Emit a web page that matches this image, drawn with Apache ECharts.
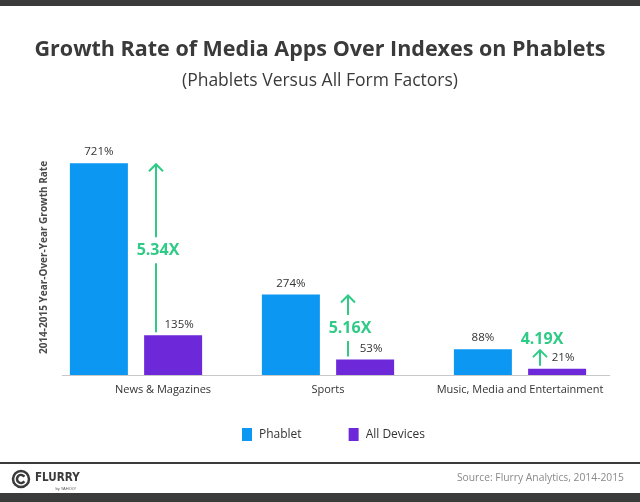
<!DOCTYPE html>
<html>
<head>
<meta charset="utf-8">
<script src="https://cdn.jsdelivr.net/npm/echarts@6/dist/echarts.min.js"></script>
<style>html,body{margin:0;padding:0;background:#fff;}#c{width:640px;height:502px;}</style>
</head>
<body>
<div id="c"></div>
<script>
var categories = ['News & Magazines', 'Sports', 'Music, Media and Entertainment'];
var phablet = [721, 274, 88];
var allDevices = [135, 53, 21];
var ratioLabels = ['5.34X', '5.16X', '4.19X'];

var FONT = '"Open Sans", sans-serif';
var GREEN = '#2fcb86';
var chart = echarts.init(document.getElementById('c'));

var arrowData = categories.map(function (c, i) { return [i, allDevices[i], phablet[i], ratioLabels[i]]; });
var categoryData = categories.map(function (c, i) {
  return i === 0 ? { value: c, textStyle: { padding: [0, 0, 0, 54] } } : c;
});

chart.setOption({
  animation: false,
  title: [
    { text: 'Growth Rate of Media Apps Over Indexes on Phablets', left: 'center', top: 34,
      textStyle: { fontFamily: FONT, fontSize: 21.5, fontWeight: 'bold', color: '#3a3a3a' } },
    { text: '(Phablets Versus All Form Factors)', left: 'center', top: 67,
      textStyle: { fontFamily: FONT, fontSize: 17.5, fontWeight: 'normal', color: '#3a3a3a' } }
  ],
  legend: {
    data: ['Phablet', 'All Devices'], bottom: 56, left: 237, itemWidth: 10, itemHeight: 13, itemGap: 47,
    icon: 'rect', textStyle: { fontFamily: FONT, fontSize: 12, color: '#333', padding: [0, 0, 0, 2] }
  },
  grid: { left: 40, right: 24, top: 140, bottom: 127 },
  xAxis: {
    type: 'category', data: categoryData,
    axisLine: { show: false }, axisTick: { show: false },
    axisLabel: { interval: 0, fontFamily: FONT, fontSize: 11, color: '#333', margin: 9 }
  },
  yAxis: {
    type: 'value', min: 0, max: 800,
    name: '2014-2015 Year-Over-Year Growth Rate', nameLocation: 'middle', nameGap: -9,
    nameTextStyle: { fontFamily: FONT, fontSize: 10, color: '#4a4a4a', fontWeight: 'bold' },
    axisLine: { show: false }, axisTick: { show: false }, axisLabel: { show: false }, splitLine: { show: false }
  },
  series: [
    { name: 'Phablet', type: 'bar', data: phablet, barWidth: 58, barGap: '28%',
      itemStyle: { color: '#0c97f2' },
      label: { show: true, position: 'top', distance: 5, formatter: '{c}%', fontFamily: FONT, fontSize: 11.5, color: '#333' } },
    { name: 'All Devices', type: 'bar', data: allDevices, barWidth: 58,
      itemStyle: { color: '#6d29d9' },
      label: { show: true, position: 'top', distance: 5, formatter: '{c}%', fontFamily: FONT, fontSize: 11.5, color: '#333',
        offset: [6, 0] } },
    { name: 'ratio', type: 'custom', data: arrowData, z: 10,
      renderItem: function (params, api) {
        var idx = api.value(0);
        var p0 = api.coord([idx, api.value(1)]);
        var p1 = api.coord([idx, api.value(2)]);
        var x = p0[0] + 20;
        var yBot = p0[1] - 3;
        var yTop = p1[1] + 1;
        var span = yBot - yTop;
        var label = ratioLabels[params.dataIndex];
        var children = [
          { type: 'line', shape: { x1: x, y1: yBot, x2: x, y2: yTop }, style: { stroke: GREEN, lineWidth: 2 } },
          { type: 'polyline', shape: { points: [[x - 7, yTop + 7], [x, yTop], [x + 7, yTop + 7]] },
            style: { stroke: GREEN, lineWidth: 2, fill: null } }
        ];
        var ty = span > 40 ? (yTop + yBot) / 2 + 2 : yTop - 11;
        children.push({ type: 'text', x: x + 2, y: ty, style: {
          text: label, fill: GREEN, font: 'bold 16px ' + FONT, align: 'center', verticalAlign: 'middle',
          backgroundColor: span > 40 ? '#fff' : null, padding: [5, 2, 5, 2] } });
        return { type: 'group', children: children };
      } }
  ],
  graphic: [
    { type: 'rect', shape: { x: 0, y: 0, width: 640, height: 6 }, style: { fill: '#3b3b3b' } },
    { type: 'line', shape: { x1: 62, y1: 375.5, x2: 610, y2: 375.5 }, style: { stroke: '#c8c8c8', lineWidth: 1 } },
    { type: 'line', shape: { x1: 0, y1: 463, x2: 640, y2: 463 }, style: { stroke: '#3b3b3b', lineWidth: 2 } },
    { type: 'rect', shape: { x: 0, y: 493, width: 640, height: 9 }, style: { fill: '#3b3b3b' } },
    { type: 'circle', shape: { cx: 21, cy: 479, r: 8 }, style: { fill: null, stroke: '#3b3b3b', lineWidth: 2.5 } },
    { type: 'arc', shape: { cx: 21, cy: 479, r: 4, startAngle: 0.6, endAngle: Math.PI * 2 - 0.6 }, style: { fill: null, stroke: '#3b3b3b', lineWidth: 2.5 } },
    { type: 'text', x: 35, y: 478, scaleX: 0.8, style: { text: 'FLURRY', font: 'bold 13px "DejaVu Sans", sans-serif', fill: '#3b3b3b', verticalAlign: 'middle' } },
    { type: 'text', x: 76, y: 489, style: { text: 'by YAHOO!', font: '4px sans-serif', fill: '#555', align: 'right', verticalAlign: 'middle' } },
    { type: 'text', x: 624, y: 478, style: { text: 'Source: Flurry Analytics, 2014-2015', font: '10.3px ' + FONT, fill: '#8a8a8a', align: 'right', verticalAlign: 'middle' } }
  ]
});
</script>
</body>
</html>
